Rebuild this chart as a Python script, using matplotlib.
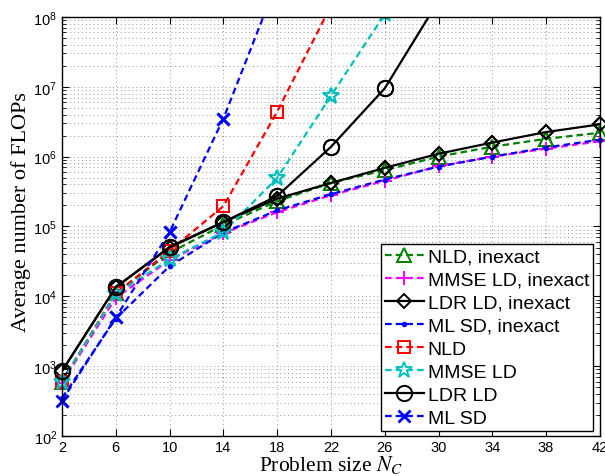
import matplotlib
matplotlib.use("Agg")
import matplotlib.pyplot as plt
from matplotlib.ticker import FixedLocator, LogLocator, FuncFormatter, NullFormatter
import numpy as np

plt.rcParams['font.family'] = ['Liberation Sans', 'DejaVu Sans']
plt.rcParams['mathtext.fontset'] = 'stix'

N = [2, 6, 10, 14, 18, 22, 26, 30, 34, 38, 42]

nld_inexact = [600, 11000, 42000, 105000, 230000, 420000, 640000, 1000000, 1390000, 1800000, 2200000]
mmse_inexact = [580, 9500, 33000, 80000, 160000, 280000, 450000, 730000, 1000000, 1300000, 1660000]
ldr_inexact = [850, 13500, 50000, 115000, 250000, 420000, 690000, 1100000, 1590000, 2250000, 2900000]
mlsd_inexact = [350, 4800, 27000, 82000, 170000, 290000, 470000, 720000, 1000000, 1350000, 1750000]

N_nld = [2, 6, 10, 14, 18, 22]
nld = [600, 11000, 45000, 195000, 4400000, 145000000]
N_mmse = [2, 6, 10, 14, 18, 22, 26]
mmse = [600, 10700, 34000, 83000, 495000, 7400000, 110000000]
N_ldr = [2, 6, 10, 14, 18, 22, 26, 30]
ldr = [850, 13500, 51000, 116000, 273000, 1380000, 9500000, 170000000]
N_mlsd = [2, 6, 10, 14, 18]
mlsd = [320, 5000, 83000, 3500000, 320000000]

labels = ['NLD, inexact', 'MMSE LD, inexact', 'LDR LD, inexact', 'ML SD, inexact',
          'NLD', 'MMSE LD', 'LDR LD', 'ML SD']

YMIN, YMAX = 1e2, 1e8

fig = plt.figure(figsize=(6.05, 4.77), dpi=100)
ax = fig.add_axes([0.1025, 0.0839, 0.889, 0.8784])

mew = 1.4
lw = 1.6
dsh = (3.0, 1.8)

def series(x, y, ls, color, label, **mk):
    ax.plot(x, y, ls, color=color, lw=lw, label=label, **mk,
            **({'dashes': dsh} if ls == '--' else {}))
    xs = [a for a, b in zip(x, y) if YMIN <= b <= YMAX]
    ys = [b for b in y if YMIN <= b <= YMAX]
    ax.plot(xs, ys, linestyle='none', color=color, clip_on=False, **mk)

series(N, nld_inexact, '--', '#008000', labels[0], marker='^', ms=10, mfc='none', mew=mew)
series(N, mmse_inexact, '--', '#ff00ff', labels[1], marker='+', ms=10, mew=mew)
series(N, ldr_inexact, '-', 'black', labels[2], marker='D', ms=7.5, mfc='none', mew=mew)
series(N, mlsd_inexact, '--', '#0000ff', labels[3], marker='.', ms=5, mew=mew)
series(N_nld, nld, '--', '#ff0000', labels[4], marker='s', ms=8.4, mfc='none', mew=mew)
series(N_mmse, mmse, '--', '#00bfbf', labels[5], marker='*', ms=12, mfc='none', mew=mew)
series(N_ldr, ldr, '-', 'black', labels[6], marker='o', ms=11, mfc='none', mew=mew)
series(N_mlsd, mlsd, '--', '#0000ff', labels[7], marker='x', ms=8.5, mew=2)

ax.set_yscale('log')
ax.set_xlim(2, 42)
ax.set_ylim(YMIN, YMAX)
ax.xaxis.set_major_locator(FixedLocator(N))
ax.yaxis.set_major_locator(LogLocator(base=10, numticks=10))
ax.yaxis.set_minor_locator(LogLocator(base=10, subs=np.arange(2, 10), numticks=20))
ax.yaxis.set_minor_formatter(NullFormatter())
ax.yaxis.set_major_formatter(FuncFormatter(lambda v, p: r'$\mathregular{10^{%d}}$' % int(round(np.log10(v)))))

gstyle = dict(linestyle=(0, (1, 3)), color='#999999', lw=0.7)
ax.grid(True, which='major', **gstyle)
ax.grid(True, which='minor', axis='y', **gstyle)
ax.set_axisbelow(True)
ax.tick_params(which='both', direction='in', top=True, right=True, labelsize=10.5)
ax.tick_params(axis='x', pad=3)
ax.tick_params(which='major', length=5)
ax.tick_params(which='minor', length=3)
for s in ax.spines.values():
    s.set_linewidth(1.0)

ax.set_xlabel(r'Problem size $N_C$', family='Liberation Serif', fontsize=15.5, labelpad=-1)
ax.set_ylabel('Average number of FLOPs', family='Liberation Serif', fontsize=16, labelpad=2)
ax.yaxis.label.set_y(0.537)

leg = ax.legend(loc='lower right', bbox_to_anchor=(593 / 605, 45 / 477), bbox_transform=fig.transFigure,
                fancybox=False, edgecolor='black', framealpha=1,
                fontsize=14, handlelength=2.0, handletextpad=0.2, labelspacing=0.28,
                borderpad=0.2, borderaxespad=0)
leg.get_frame().set_linewidth(1.0)
leg.set_zorder(5)

fig.savefig('out.png', dpi=100)
